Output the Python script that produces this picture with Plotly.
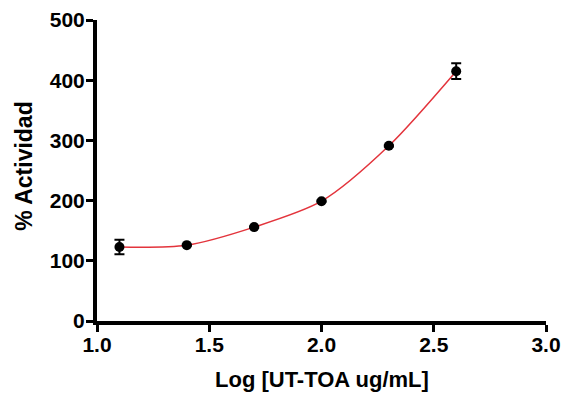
import plotly.graph_objects as go

log_conc = [1.1, 1.4, 1.7, 2.0, 2.3, 2.6]
actividad = [123, 126, 156, 199, 291, 415]
error = [12, 1, 1, 1, 1, 13]

x_ticks = [1.0, 1.5, 2.0, 2.5, 3.0]
x_ticklabels = ["1.0", "1.5", "2.0", "2.5", "3.0"]
y_ticks = [0, 100, 200, 300, 400, 500]

FONT = "Liberation Sans, Arial, sans-serif"

fig = go.Figure()
fig.add_trace(go.Scatter(
    x=log_conc, y=actividad, mode="lines",
    line=dict(color="#e3343c", width=1.5, shape="spline", smoothing=0.8),
    hoverinfo="skip", showlegend=False))
fig.add_trace(go.Scatter(
    x=log_conc, y=actividad, mode="markers",
    marker=dict(color="black", size=10),
    error_y=dict(type="data", array=error, color="black", thickness=2, width=5),
    showlegend=False))

tick_font = dict(family=FONT, size=21, color="black")
common = dict(showline=True, linecolor="black", linewidth=4, ticks="outside",
              ticklen=7, tickwidth=3, tickcolor="black", showgrid=False,
              zeroline=False, tickfont=tick_font, automargin=False)
fig.update_layout(
    width=564, height=394,
    margin=dict(l=97, r=18, t=20, b=73),
    paper_bgcolor="white", plot_bgcolor="white",
    font=dict(family=FONT, color="black"),
    xaxis=dict(range=[1.0, 3.0], tickvals=x_ticks, ticklabelstandoff=-5,
               ticktext=[f"<b>{t}</b>" for t in x_ticklabels], **common),
    yaxis=dict(range=[0, 500], tickvals=y_ticks, ticklabelstandoff=-3,
               ticktext=[f"<b>{t}</b>" for t in y_ticks], **common),
    annotations=[
        dict(text="<b>Log [UT-TOA ug/mL]</b>", xref="paper", yref="paper",
             x=0.5, y=-0.196, xanchor="center", yanchor="middle", showarrow=False,
             font=dict(family=FONT, size=22, color="black")),
        dict(text="<b>% Actividad</b>", xref="paper", yref="paper",
             x=-0.163, y=0.515, xanchor="center", yanchor="middle", showarrow=False,
             textangle=-90, font=dict(family=FONT, size=23, color="black")),
    ],
)
fig.write_html("out.html")
